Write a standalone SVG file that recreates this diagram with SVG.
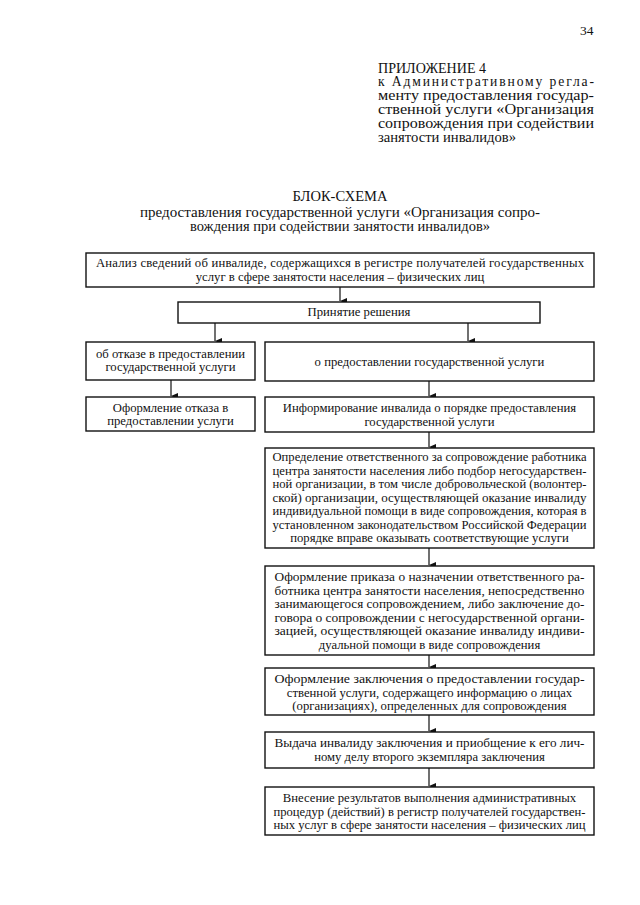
<svg xmlns="http://www.w3.org/2000/svg" width="640" height="905" viewBox="0 0 640 905">
<style>
text{font-family:"Liberation Serif","Times New Roman",serif;fill:#111}
.h{font-size:14.5px}
.hs{font-size:13.6px}
.b{font-size:12.7px;text-anchor:middle}
.box{fill:#fff;stroke:#111;stroke-width:1.4}
.ln{stroke:#111;stroke-width:1.2;fill:none}
</style>
<defs>
<marker id="ar" markerWidth="6" markerHeight="7" refX="3" refY="7" orient="auto" markerUnits="userSpaceOnUse" viewBox="0 0 6 7">
<path d="M0,0 L6,0 L3,7 Z" fill="#111"/>
</marker>
</defs>
<rect width="640" height="905" fill="#fff"/>
<g id="header">
<text class="h" x="580" y="35" style="font-size:13.5px">34</text>
<text class="hs" x="378" y="72.5" textLength="108" lengthAdjust="spacingAndGlyphs">ПРИЛОЖЕНИЕ 4</text>
<text class="hs" x="378" y="86.3" textLength="216" lengthAdjust="spacing">к Административному регла-</text>
<text class="hs" x="378" y="100.1" textLength="216" lengthAdjust="spacingAndGlyphs">менту предоставления государ-</text>
<text class="hs" x="378" y="113.9" textLength="216" lengthAdjust="spacingAndGlyphs">ственной услуги «Организация</text>
<text class="hs" x="378" y="127.7" textLength="216" lengthAdjust="spacingAndGlyphs">сопровождения при содействии</text>
<text class="hs" x="378" y="141.5" textLength="138" lengthAdjust="spacingAndGlyphs">занятости инвалидов»</text>
</g>
<g id="title">
<text class="h" x="340" y="201" text-anchor="middle">БЛОК-СХЕМА</text>
<text class="hs" x="140" y="217" textLength="400" lengthAdjust="spacingAndGlyphs">предоставления государственной услуги «Организация сопро-</text>
<text class="hs" x="340" y="231" text-anchor="middle" textLength="300" lengthAdjust="spacingAndGlyphs">вождения при содействии занятости инвалидов»</text>
</g>
<g id="connectors">
<path class="ln" d="M340,287 V301" marker-end="url(#ar)"/>
<path class="ln" d="M215,323 V341" marker-end="url(#ar)"/>
<path class="ln" d="M468,323 V341" marker-end="url(#ar)"/>
<path class="ln" d="M171,380 V396" marker-end="url(#ar)"/>
<path class="ln" d="M429,381 V396" marker-end="url(#ar)"/>
<path class="ln" d="M429,432 V447" marker-end="url(#ar)"/>
<path class="ln" d="M429,548 V565" marker-end="url(#ar)"/>
<path class="ln" d="M429,655 V667" marker-end="url(#ar)"/>
<path class="ln" d="M429,715 V731" marker-end="url(#ar)"/>
<path class="ln" d="M429,768 V786" marker-end="url(#ar)"/>
</g>
<g id="n1">
<rect class="box" x="86" y="253" width="508" height="34"/>
<text class="b" x="340" y="267" textLength="488" lengthAdjust="spacing">Анализ сведений об инвалиде, содержащихся в регистре получателей государственных</text>
<text class="b" x="340" y="281">услуг в сфере занятости населения – физических лиц</text>
</g>
<g id="n2">
<rect class="box" x="178" y="302" width="362" height="21"/>
<text class="b" x="359" y="316">Принятие решения</text>
</g>
<g id="n3">
<rect class="box" x="86" y="342" width="169" height="38"/>
<text class="b" x="170.5" y="358">об отказе в предоставлении</text>
<text class="b" x="170.5" y="371">государственной услуги</text>
</g>
<g id="n4">
<rect class="box" x="265" y="342" width="329" height="39"/>
<text class="b" x="429.5" y="366">о предоставлении государственной услуги</text>
</g>
<g id="n5">
<rect class="box" x="86" y="397" width="169" height="34"/>
<text class="b" x="170.5" y="412">Оформление отказа в</text>
<text class="b" x="170.5" y="425">предоставлении услуги</text>
</g>
<g id="n6">
<rect class="box" x="265" y="397" width="329" height="35"/>
<text class="b" x="429.5" y="412">Информирование инвалида о порядке предоставления</text>
<text class="b" x="429.5" y="425.5">государственной услуги</text>
</g>
<g id="n7">
<rect class="box" x="265" y="448" width="329" height="100"/>
<text class="b" x="429.5" y="461" textLength="314" lengthAdjust="spacingAndGlyphs">Определение ответственного за сопровождение работника</text>
<text class="b" x="429.5" y="474.5" textLength="314" lengthAdjust="spacingAndGlyphs">центра занятости населения либо подбор негосударствен-</text>
<text class="b" x="429.5" y="488" textLength="314" lengthAdjust="spacingAndGlyphs">ной организации, в том числе добровольческой (волонтер-</text>
<text class="b" x="429.5" y="501.5" textLength="314" lengthAdjust="spacingAndGlyphs">ской) организации, осуществляющей оказание инвалиду</text>
<text class="b" x="429.5" y="515" textLength="314" lengthAdjust="spacingAndGlyphs">индивидуальной помощи в виде сопровождения, которая в</text>
<text class="b" x="429.5" y="528.5" textLength="314" lengthAdjust="spacingAndGlyphs">установленном законодательством Российской Федерации</text>
<text class="b" x="429.5" y="542">порядке вправе оказывать соответствующие услуги</text>
</g>
<g id="n8">
<rect class="box" x="265" y="566" width="329" height="89"/>
<text class="b" x="429.5" y="581" textLength="310" lengthAdjust="spacingAndGlyphs">Оформление приказа о назначении ответственного ра-</text>
<text class="b" x="429.5" y="594.5" textLength="310" lengthAdjust="spacingAndGlyphs">ботника центра занятости населения, непосредственно</text>
<text class="b" x="429.5" y="608" textLength="310" lengthAdjust="spacingAndGlyphs">занимающегося сопровождением, либо заключение до-</text>
<text class="b" x="429.5" y="621.5" textLength="310" lengthAdjust="spacingAndGlyphs">говора о сопровождении с негосударственной органи-</text>
<text class="b" x="429.5" y="635" textLength="310" lengthAdjust="spacingAndGlyphs">зацией, осуществляющей оказание инвалиду индиви-</text>
<text class="b" x="429.5" y="648.5">дуальной помощи в виде сопровождения</text>
</g>
<g id="n9">
<rect class="box" x="265" y="668" width="329" height="47"/>
<text class="b" x="429.5" y="683" textLength="310" lengthAdjust="spacingAndGlyphs">Оформление заключения о предоставлении государ-</text>
<text class="b" x="429.5" y="696.5">ственной услуги, содержащего информацию о лицах</text>
<text class="b" x="429.5" y="710">(организациях), определенных для сопровождения</text>
</g>
<g id="n10">
<rect class="box" x="265" y="732" width="329" height="36"/>
<text class="b" x="429.5" y="747" textLength="310" lengthAdjust="spacingAndGlyphs">Выдача инвалиду заключения и приобщение к его лич-</text>
<text class="b" x="429.5" y="761">ному делу второго экземпляра заключения</text>
</g>
<g id="n11">
<rect class="box" x="265" y="787" width="329" height="48"/>
<text class="b" x="429.5" y="802">Внесение результатов выполнения административных</text>
<text class="b" x="429.5" y="815.5" textLength="312" lengthAdjust="spacingAndGlyphs">процедур (действий) в регистр получателей государствен-</text>
<text class="b" x="429.5" y="829" textLength="312" lengthAdjust="spacingAndGlyphs">ных услуг в сфере занятости населения – физических лиц</text>
</g>
</svg>
